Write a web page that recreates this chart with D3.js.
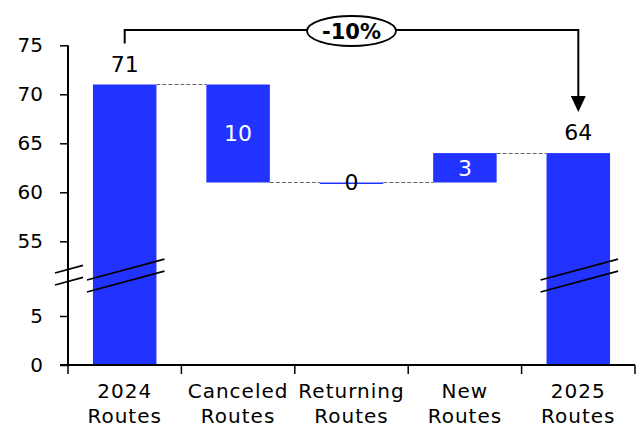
<!DOCTYPE html>
<html>
<head>
  <meta charset="utf-8">
  <title></title>
  <style>
    body,html{
      margin:0;
      padding:0;
      background:#fff;
    }
    text{
      font-family: "DejaVu Sans", Verdana, sans-serif;
      font-size:20px;
      fill:#000;
    }
    .cat text{
      letter-spacing:1px;
    }
    .lbl{
      font-size:22px;
    }
  </style>
</head>
<body>
  <div id="container"></div>
  <script src="https://d3js.org/d3.v7.min.js"></script>
  <script type="text/javascript">

    // data
    var categories = ['2024 Routes', 'Canceled Routes', 'Returning Routes', 'New Routes', '2025 Routes'];
    var values = [71, -10, 0, 3, 64];
    var kinds = ['total', 'delta', 'delta', 'delta', 'total'];
    var yTicks = [0, 5, 55, 60, 65, 70, 75];

    var width = 640, height = 428;
    var barColor = '#2233ff';

    // running totals for the waterfall
    var bars = [];
    var run = 0;
    for(var i = 0; i<categories.length; i++){
      var s, e;
      if(kinds[i]==='total'){ s = 0; e = values[i]; }
      else { s = run; e = run + values[i]; }
      run = e;
      bars.push({cat:categories[i], value:values[i], kind:kinds[i], start:s, end:e});
    }

    var svg = d3.select('#container').append('svg')
      .attr('width', width).attr('height', height);

    var x = d3.scaleBand().domain(categories).range([68, 635])
      .paddingInner(0.44).paddingOuter(0.22);

    // broken axis: lower piece 0..6.5, upper piece 53..75
    var y = d3.scaleLinear().domain([0, 6.5, 53, 75]).range([365, 301.3, 260.9, 45.3]);

    // connectors
    var conn = [];
    for(var i = 0; i<bars.length-1; i++){
      conn.push({x1:x(bars[i].cat)+x.bandwidth(), x2:x(bars[i+1].cat), v:bars[i].end});
    }
    svg.append('g').selectAll('line').data(conn).enter().append('line')
      .attr('x1', function(d){ return d.x1; })
      .attr('x2', function(d){ return d.x2; })
      .attr('y1', function(d){ return Math.round(y(d.v))+0.5; })
      .attr('y2', function(d){ return Math.round(y(d.v))+0.5; })
      .attr('stroke', '#666').attr('stroke-width', 1.2)
      .attr('stroke-dasharray', '4,2');

    // bars
    svg.append('g').selectAll('rect').data(bars).enter().append('rect')
      .attr('x', function(d){ return x(d.cat); })
      .attr('width', x.bandwidth())
      .attr('y', function(d){ return Math.min(y(d.start), y(d.end)); })
      .attr('height', function(d){ return Math.max(1.5, Math.abs(y(d.start)-y(d.end))); })
      .attr('fill', barColor);

    // value labels
    svg.append('g').selectAll('text').data(bars).enter().append('text')
      .attr('class', 'lbl')
      .attr('text-anchor', 'middle')
      .attr('x', function(d){ return x(d.cat)+x.bandwidth()/2; })
      .attr('y', function(d){
        if(d.kind==='total') return y(d.end)-13;
        return (y(d.start)+y(d.end))/2;
      })
      .attr('dy', function(d){ return d.kind==='total' ? 0 : '0.36em'; })
      .style('fill', function(d){ return (d.kind==='delta' && d.value!==0) ? '#fff' : '#000'; })
      .text(function(d){ return Math.abs(d.value); });

    // y axis
    var yAxis = svg.append('g').attr('transform', 'translate(68,0)')
      .call(d3.axisLeft(y).tickValues(yTicks).tickSize(8).tickPadding(17));
    yAxis.select('.domain').remove();
    yAxis.selectAll('.tick line').attr('stroke', '#000').attr('stroke-width', 1.5);
    yAxis.selectAll('.tick text').style('font-size', '20px').style('font-family', '"DejaVu Sans", Verdana, sans-serif');
    svg.append('line').attr('x1', 68).attr('x2', 68).attr('y1', y(75)).attr('y2', y(0))
      .attr('stroke', '#000').attr('stroke-width', 2);

    // x axis
    svg.append('line').attr('x1', 60).attr('x2', 635).attr('y1', y(0)).attr('y2', y(0))
      .attr('stroke', '#000').attr('stroke-width', 2);
    var step = x.step();
    var bounds = categories.map(function(c){ return x(c) - step*0.22; });
    bounds.push(635);
    svg.append('g').selectAll('line').data(bounds).enter().append('line')
      .attr('x1', function(d){ return d; }).attr('x2', function(d){ return d; })
      .attr('y1', y(0)).attr('y2', y(0)+9)
      .attr('stroke', '#000').attr('stroke-width', 1.5);

    var cat = svg.append('g').attr('class', 'cat').selectAll('text').data(categories).enter().append('text')
      .attr('text-anchor', 'middle')
      .attr('x', function(d){ return x(d)+x.bandwidth()/2; })
      .attr('y', 398);
    cat.each(function(d){
      var parts = d.split(' ');
      var t = d3.select(this);
      parts.forEach(function(p, k){
        t.append('tspan').attr('x', x(d)+x.bandwidth()/2).attr('dy', k===0 ? 0 : 25).text(p);
      });
    });

    // break marks
    function breakMark(x0, x1, yb){
      var dy = (x1-x0)*0.27;
      [0, 12].forEach(function(o){
        svg.append('line').attr('x1', x0).attr('x2', x1)
          .attr('y1', yb+o).attr('y2', yb+o-dy)
          .attr('stroke', '#000').attr('stroke-width', 1.8);
      });
    }
    breakMark(55, 83, 273);
    breakMark(x(categories[0])-6, x(categories[0])+x.bandwidth()+8, 280);
    breakMark(x(categories[4])-6, x(categories[4])+x.bandwidth()+8, 280);

    // change annotation
    var xa = x(categories[0])+x.bandwidth()/2;
    var xb = x(categories[4])+x.bandwidth()/2;
    var topY = 30;
    var pct = Math.round((bars[4].end - bars[0].end)/bars[0].end*100);
    svg.append('path')
      .attr('d', 'M'+xa+','+(y(bars[0].end)-41)+'V'+topY+'H'+xb+'V'+(y(bars[4].end)-57))
      .attr('fill', 'none').attr('stroke', '#000').attr('stroke-width', 2);
    var tip = y(bars[4].end)-41;
    svg.append('path')
      .attr('d', 'M'+(xb-7.5)+','+(tip-16)+'L'+(xb+7.5)+','+(tip-16)+'L'+xb+','+tip+'Z')
      .attr('fill', '#000');
    var cx = 351.5;
    svg.append('ellipse').attr('cx', cx).attr('cy', 31).attr('rx', 44.5).attr('ry', 15)
      .attr('fill', '#fff').attr('stroke', '#000').attr('stroke-width', 1.8);
    svg.append('text').attr('x', cx).attr('y', 31).attr('dy', '0.36em')
      .attr('text-anchor', 'middle').style('font-weight', 'bold').style('font-size', '21px')
      .text(pct + '%');

  </script>
</body>
</html>
